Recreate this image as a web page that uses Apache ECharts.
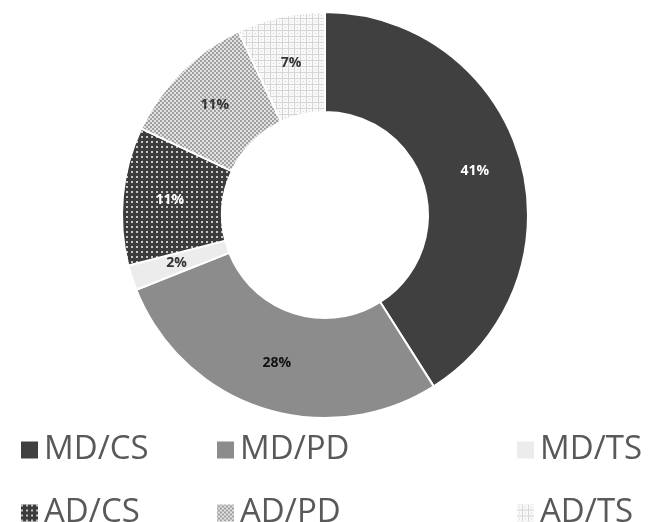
<!DOCTYPE html>
<html>
<head>
<meta charset="utf-8">
<script src="https://cdn.jsdelivr.net/npm/echarts@6/dist/echarts.min.js"></script>
<style>
  html, body { margin: 0; padding: 0; background: #fff; }
  #chart { width: 652px; height: 522px; }
</style>
</head>
<body>
<div id="chart"></div>
<script>
// Data
let names = ['MD/CS', 'MD/PD', 'MD/TS', 'AD/CS', 'AD/PD', 'AD/TS'];
let shares = [41, 28, 2, 11, 11, 7];

// small canvas tiles for the hatched slices
function tile(size, draw) {
  let c = document.createElement('canvas');
  c.width = size;
  c.height = size;
  draw(c.getContext('2d'));
  return { image: c, repeat: 'repeat' };
}

let dotsDark = tile(5, ctx => {
  ctx.fillStyle = '#3c3c3c';
  ctx.fillRect(0, 0, 5, 5);
  ctx.fillStyle = '#c8c8c8';
  ctx.fillRect(1, 1, 2, 2);
});

let checkGray = tile(4, ctx => {
  ctx.fillStyle = '#e2e2e2';
  ctx.fillRect(0, 0, 4, 4);
  ctx.fillStyle = '#a0a0a0';
  ctx.fillRect(0, 0, 2, 2);
  ctx.fillRect(2, 2, 2, 2);
});

let gridLight = tile(6, ctx => {
  ctx.fillStyle = '#f9f9f9';
  ctx.fillRect(0, 0, 6, 6);
  ctx.fillStyle = '#d6d6d6';
  ctx.fillRect(0, 0, 6, 1);
  ctx.fillRect(0, 0, 1, 6);
  ctx.fillRect(3, 3, 1, 1);
});

let fills = ['#404040', '#8c8c8c', '#ececec', dotsDark, checkGray, gridLight];
let labelColors = ['#ffffff', '#111111', '#333333', '#ffffff', '#333333', '#333333'];

let myChart = echarts.init(document.getElementById('chart'));

// one legend per slot: 3 columns x 2 rows
let colLeft = [14, 210, 510];
let rowTop = [425, 488];

let legends = names.map((n, i) => ({
  left: colLeft[i % 3],
  top: rowTop[Math.floor(i / 3)],
  itemWidth: 19,
  itemHeight: 19,
  itemGap: 10,
  icon: 'rect',
  data: [n],
  selectedMode: false,
  textStyle: {
    color: '#595959',
    fontSize: 33,
    fontFamily: 'Open Sans',
    lineHeight: 40
  }
}));

let option = {
  animation: false,
  legend: legends,
  series: [
    {
      type: 'pie',
      center: [325, 215],
      radius: [103, 203],
      startAngle: 90,
      clockwise: true,
      itemStyle: {
        borderColor: '#ffffff',
        borderWidth: 2
      },
      label: {
        position: 'inside',
        fontFamily: 'Open Sans',
        fontWeight: 'bold',
        fontSize: 14,
        formatter: p => p.value + '%'
      },
      labelLine: { show: false },
      data: names.map((n, i) => ({
        name: n,
        value: shares[i],
        itemStyle: { color: fills[i] },
        label: { color: labelColors[i] }
      }))
    }
  ]
};

myChart.setOption(option);
</script>
</body>
</html>
